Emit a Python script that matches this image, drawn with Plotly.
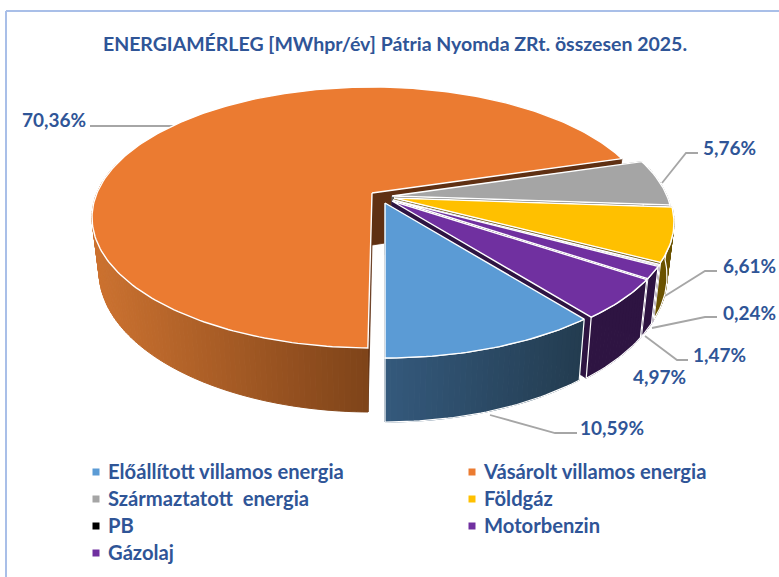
import math
import plotly.graph_objects as go

TITLE = "ENERGIAMÉRLEG [MWhpr/év] Pátria Nyomda ZRt. összesen 2025."
CATEGORIES = ["Előállított villamos energia", "Vásárolt villamos energia", "Származtatott  energia",
              "Földgáz", "PB", "Motorbenzin", "Gázolaj"]
SHARES = [10.59, 70.36, 5.76, 6.61, 0.24, 1.47, 4.97]

LEGEND_COLOURS = ["#5B9BD5", "#EB7B31", "#A5A5A5", "#FFC000", "#000000", "#7030A0", "#7030A0"]
TOP_COLOURS = ["#5B9BD5", "#EB7B31", "#A5A5A5", "#FFC000", "#E8E4EE", "#7030A0", "#7030A0"]
SIDE_LEFT = ["#34597C", "#CC7230", "#5F5F5F", "#6B5300", "#2A1040", "#2E1442", "#2E1442"]
SIDE_RIGHT = ["#233C50", "#7E4319", "#5F5F5F", "#6B5300", "#2A1040", "#2E1442", "#2E1442"]
WALL_COLOURS = ["#233C50", "#5F3013", "#5F5F5F", "#6B5300", "#2A1040", "#2E1442", "#2E1442"]
SLICE_SHIFT = [(13, 10), (0, 0), (20, 3), (22, 5), (21, 7), (21, 7), (20, 8)]
LABEL_POS = [(612, 427), (54, 119), (729, 147), (749, 265), (749, 312), (719, 354), (659, 376)]
LEADERS = [[(577, 433), (555, 433), (490, 415)], [(90, 126), (176, 126)],
           [(698, 153), (686, 153), (662, 183)], [(717, 271), (705, 271), (665, 296)],
           [(717, 317), (705, 317), (652, 328)], [(688, 360), (677, 360), (645, 336)], []]
LEGEND_POS = [(96, 472), (472, 472), (96, 499), (472, 499), (96, 526), (472, 526), (96, 553)]

TEXT = "#2F5597"
FONT = "Lato"
CX, CY = 372, 193
A, B, P, DEPTH, BOTTOM_X = 125.9, 275.0, 0.1877, 52.0, 0.975
START = 180.0
LARGEST_SLICE_EDGE_NUDGE = 0.7


def proj(theta, shift, r=1.0, low=False):
    t = math.radians(theta)
    X, Y = r * math.sin(t), r * math.cos(t)
    w = 1 + P * Y
    sx, sy = B * X / w, -A * Y / w
    if low:
        sx *= BOTTOM_X
        sy += DEPTH / w
    return CX + shift[0] + sx, CY + shift[1] + sy


def hex_mix(c1, c2, f):
    a = [int(c1[i:i + 2], 16) for i in (1, 3, 5)]
    b = [int(c2[i:i + 2], 16) for i in (1, 3, 5)]
    return "#%02x%02x%02x" % tuple(round(p + (q - p) * f) for p, q in zip(a, b))


def poly(fig, pts, fill, line=None, width=0.8):
    fig.add_trace(go.Scatter(x=[p[0] for p in pts] + [pts[0][0]], y=[p[1] for p in pts] + [pts[0][1]],
                             mode="lines", fill="toself", fillcolor=fill,
                             line=dict(color=line or fill, width=width),
                             hoverinfo="skip", showlegend=False))


def outline(fig, pts, width=1.2):
    fig.add_trace(go.Scatter(x=[p[0] for p in pts] + [pts[0][0]], y=[p[1] for p in pts] + [pts[0][1]],
                             mode="lines", line=dict(color="#FFFFFF", width=width),
                             hoverinfo="skip", showlegend=False))


fig = go.Figure()

for pts in LEADERS:
    if pts:
        fig.add_trace(go.Scatter(x=[p[0] for p in pts], y=[p[1] for p in pts], mode="lines",
                                 line=dict(color="#A6A6A6", width=1.8), hoverinfo="skip", showlegend=False))

spans = []
a0 = START - SHARES[0] * 3.6
for v in SHARES:
    spans.append((a0, a0 + v * 3.6))
    a0 += v * 3.6
spans[1] = (spans[1][0] + LARGEST_SLICE_EDGE_NUDGE, spans[1][1])

for i in [1, 2, 3, 4, 5, 6, 0]:
    a, b = spans[i]
    s = SLICE_SHIFT[i]
    apex_t, apex_l = proj(0, s, 0), proj(0, s, 0, True)
    for ang in (b, a):
        poly(fig, [apex_t, proj(ang, s), proj(ang, s, low=True), apex_l], WALL_COLOURS[i])
    n = max(2, int((b - a) / 1.0))
    steps = [a + (b - a) * k / n for k in range(n + 1)]
    vis = [t for t in steps if math.cos(math.radians(t)) < 0.25]
    if len(vis) > 1:
        vx = [proj(t, s)[0] for t in vis]
        lo, hi = min(vx), max(vx)
        for t0, t1 in zip(vis[:-1], vis[1:]):
            mid = (proj(t0, s)[0] + proj(t1, s)[0]) / 2
            f = (mid - lo) / (hi - lo) if hi > lo else 0
            poly(fig, [proj(t0, s), proj(t1, s), proj(t1, s, low=True), proj(t0, s, low=True)],
                 hex_mix(SIDE_LEFT[i], SIDE_RIGHT[i], f), width=1.0)
        if i != 1:
            outline(fig, [proj(t, s) for t in vis] + [proj(t, s, low=True) for t in reversed(vis)])
    m = max(6, int(b - a))
    top = [apex_t] + [proj(a + (b - a) * k / m, s) for k in range(m + 1)]
    poly(fig, top, TOP_COLOURS[i], line="#FFFFFF", width=1.4)

for name, colour, (x, y) in zip(CATEGORIES, LEGEND_COLOURS, LEGEND_POS):
    fig.add_trace(go.Scatter(x=[x], y=[y], mode="markers", name=name,
                             marker=dict(symbol="square", size=7, color=colour),
                             hoverinfo="skip", showlegend=False))
    fig.add_trace(go.Scatter(x=[x + 12], y=[y + 1.5], mode="text", name=name, text=[name],
                             textposition="middle right",
                             textfont=dict(family=FONT, size=20.2, color=TEXT, weight=700),
                             hoverinfo="skip", showlegend=False))

annotations = []
for v, (x, y) in zip(SHARES, LABEL_POS):
    annotations.append(dict(x=x, y=y, xref="x", yref="y", showarrow=False,
                            text=f"{v:.2f}%".replace(".", ","),
                            font=dict(family=FONT, size=19, color=TEXT, weight=700)))

fig.update_layout(
    width=779, height=577, autosize=False,
    margin=dict(l=0, r=0, t=0, b=0),
    paper_bgcolor="white", plot_bgcolor="white", showlegend=False,
    title=dict(text=TITLE, x=395 / 779, xanchor="center", y=1 - 44 / 577, yanchor="middle",
               font=dict(family=FONT, size=19.5, color=TEXT, weight=700)),
    xaxis=dict(range=[0, 779], visible=False, fixedrange=True),
    yaxis=dict(range=[577, 0], visible=False, fixedrange=True),
    annotations=annotations,
    shapes=[dict(type="line", xref="x", yref="y", x0=6, y0=11, x1=779, y1=11, line=dict(color="#A9BFE8", width=2)),
            dict(type="line", xref="x", yref="y", x0=6, y0=11, x1=6, y1=577, line=dict(color="#A9BFE8", width=2))],
)
fig.write_html("out.html", config={"displayModeBar": False},
               post_script="document.body.style.margin='0';document.body.style.overflow='hidden';")
